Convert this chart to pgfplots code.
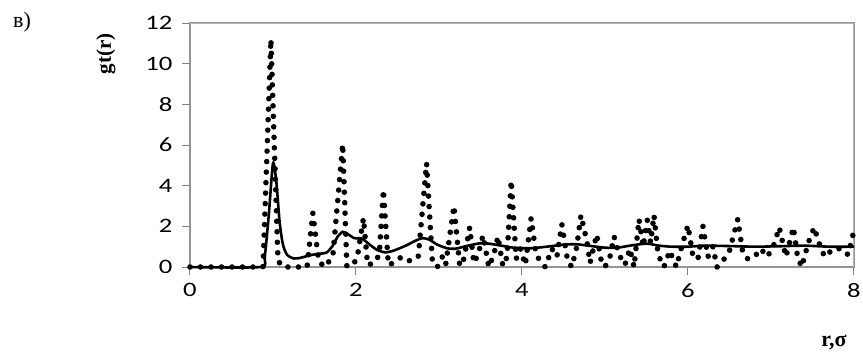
\documentclass[border=0pt]{standalone}
\usepackage{fontspec}
\setmainfont{Carlito}[FakeStretch=1.3]
\newfontfamily\serifcyr{Liberation Serif}
\usepackage{pgfplots}
\pgfplotsset{compat=1.18}
\begin{document}
\begin{tikzpicture}
\path[use as bounding box] (0,0) rectangle (863pt,360pt);
\node[font=\serifcyr\fontsize{22}{24}\selectfont] at (22pt,338pt) {в)};
\begin{axis}[
  at={(190pt,93pt)}, anchor=south west,
  scale only axis, width=664pt, height=244pt,
  xmin=0, xmax=8, ymin=0, ymax=12,
  xtick={0,2,4,6,8}, ytick={0,2,4,6,8,10,12},
  xtick pos=bottom, ytick pos=left,
  tick align=outside, major tick length=8pt,
  axis line style={draw=black!42, line width=1.1pt},
  tick style={draw=black!50, line width=1pt},
  /pgf/number format/assume math mode=true,
  ticklabel style={font=\fontsize{20.5}{22}\selectfont, text=black},
  yticklabel style={xshift=-6pt},
  xticklabel style={yshift=-5pt},
  clip=false,
]
\draw[black!30, line width=1pt] (rel axis cs:0,1) -- (rel axis cs:1,1) -- (rel axis cs:1,0);
\addplot[black, line width=5.6pt, line cap=round, dash pattern=on 0pt off 10.5pt] coordinates {
(0,0) (0.88,0) (0.975,11.2) (1.06,0.3) (1.12,0) (1.41,0) (1.48,2.65) (1.55,0.3)
(1.62,0.0) (1.72,0.5) (1.84,6.05) (1.89,0.05) (1.97,0.1) (2.02,0.6) (2.09,2.4) (2.14,0.1)
(2.22,0.2) (2.28,0.6) (2.33,3.8) (2.39,0.1) (2.45,0.2) (2.55,0.5) (2.65,0.3) (2.75,0.5)
(2.85,5.1) (2.92,0.3) (2.98,0.0) (3.04,0.5) (3.08,0.1) (3.18,3.0) (3.25,0.05)
(3.30,0.4) (3.37,1.95) (3.42,0.2) (3.47,0.6) (3.53,1.55) (3.6,0.0) (3.66,0.6) (3.71,1.5) (3.77,0.05)
(3.82,0.5) (3.87,4.25) (3.93,0.4) (3.98,0.9) (4.04,0.1) (4.11,2.4) (4.17,0.6)
(4.22,0.3) (4.28,0.0) (4.36,0.9) (4.42,0.5) (4.48,2.1) (4.55,0.3)
(4.6,0.0) (4.66,1.0) (4.71,2.55) (4.78,1.3) (4.82,0.2) (4.9,1.6) (4.95,0.4) (5.0,0.0) (5.06,0.5)
(5.11,1.5) (5.17,0.6) (5.24,0.1) (5.3,0.9) (5.35,0.0) (5.41,2.35) (5.46,1.0) (5.51,2.3) (5.55,1.2) (5.59,2.55) (5.64,0.6)
(5.71,0.0) (5.78,0.8) (5.86,0.0) (5.93,1.1) (6.0,2.05) (6.06,0.5) (6.12,0.4) (6.18,2.0) (6.24,0.5)
(6.3,1.0) (6.35,0.0) (6.42,0.3) (6.5,0.8) (6.6,2.35) (6.66,0.7) (6.72,0.4) (6.8,0.5) (6.88,0.9)
(6.95,0.5) (7.02,0.9) (7.1,1.95) (7.18,0.5) (7.27,1.95) (7.32,0.5) (7.37,0.0) (7.45,1.2) (7.52,1.95)
(7.6,0.9) (7.65,0.5) (7.75,0.9) (7.85,0.9) (7.93,0.6) (8.0,1.8)
};
\addplot[black, line width=2.6pt, smooth, tension=0.4] coordinates {
(0,0) (0.85,0) (0.9,0.5) (0.95,2.6) (1.0,5.1) (1.04,4.2) (1.08,2.2) (1.12,1.1) (1.17,0.6)
(1.25,0.42) (1.33,0.45) (1.42,0.55) (1.5,0.62) (1.58,0.66) (1.65,0.72) (1.72,1.05) (1.78,1.5)
(1.84,1.73) (1.9,1.62) (1.98,1.42) (2.07,1.4) (2.15,1.15) (2.25,0.85) (2.35,0.72) (2.45,0.8)
(2.6,1.05) (2.72,1.3) (2.8,1.42) (2.88,1.35) (2.98,1.1) (3.1,0.92) (3.2,0.9) (3.35,1.05)
(3.5,1.17) (3.6,1.15) (3.75,1.05) (3.9,0.95) (4.1,0.92) (4.3,1.0) (4.5,1.1) (4.65,1.12)
(4.8,1.05) (5.0,0.95) (5.15,0.95) (5.3,1.05) (5.5,1.15) (5.65,1.05) (5.8,1.0) (6.0,1.0)
(6.2,1.05) (6.5,1.03) (6.8,1.0) (7.1,1.02) (7.4,1.05) (7.7,1.0) (8,1.0)
};
\node[font=\serifcyr\bfseries\fontsize{21}{24}\selectfont, rotate=90] at (axis description cs:-0.1265,0.873) {gt(r)};
\node[font=\serifcyr\bfseries\fontsize{22}{24}\selectfont] at (axis description cs:0.97,-0.31) {r,σ};
\end{axis}
\end{tikzpicture}
\end{document}
